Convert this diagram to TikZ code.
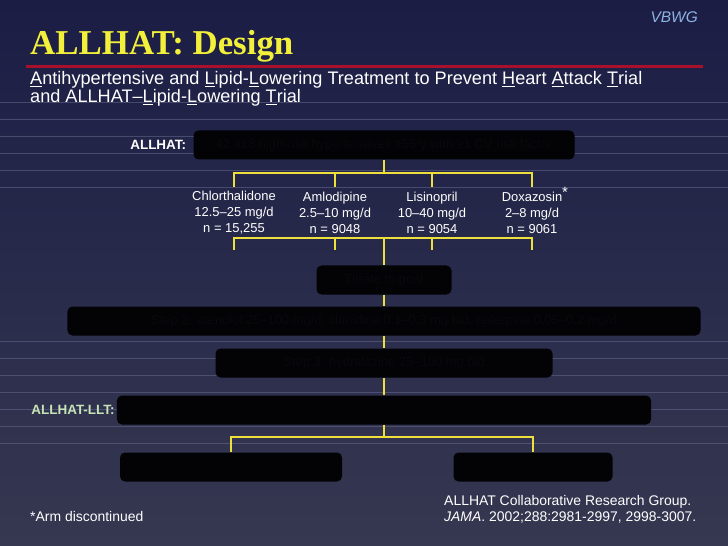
\documentclass[tikz,border=0pt]{standalone}
\usepackage{fontspec}
\setmainfont{Liberation Sans}
\newfontfamily\titlefont{Liberation Serif}
\usetikzlibrary{positioning}
\definecolor{slidetop}{HTML}{363851}
\definecolor{slidebot}{HTML}{1B1D45}
\definecolor{titleyellow}{HTML}{F2F03A}
\definecolor{rulered}{HTML}{A8102C}
\definecolor{linkyellow}{HTML}{EDE03C}
\definecolor{vbwgblue}{HTML}{8DB3E2}
\definecolor{lltgreen}{HTML}{C6E4B4}
\definecolor{scan}{HTML}{676A8C}
\definecolor{boxfill}{HTML}{030306}
\definecolor{boxtext}{HTML}{09090D}
\begin{document}
\begin{tikzpicture}[x=1bp,y=-1bp,
  box/.style={fill=boxfill, rounded corners=5bp, minimum height=29bp, inner sep=0pt,
    text=boxtext, font=\fontsize{13}{15}\selectfont},
  drug/.style={text=white, align=center, inner sep=0pt, font=\fontsize{13}{16}\selectfont},
  link/.style={draw=linkyellow, line width=2.6bp},
  scanline/.style={draw=scan, line width=0.7bp, opacity=0.55},
  tag/.style={font=\bfseries\fontsize{13.5}{15}\selectfont, inner sep=0pt},
  note/.style={text=white, inner sep=0pt, font=\fontsize{14}{16}\selectfont}]
\useasboundingbox (0,0) rectangle (728,546);
\shade[top color=slidebot, bottom color=slidetop] (0,0) rectangle (728,546);
\foreach \y in {102,119,...,187}
  \draw[scanline] (0,\y) -- (728,\y);
\foreach \y in {341,358,...,443}
  \draw[scanline] (0,\y) -- (728,\y);

\node[anchor=base east, text=vbwgblue, inner sep=0pt, font=\itshape\fontsize{15.5}{16}\selectfont] (vbwg) at (698,23) {VBWG};
\node[anchor=base west, text=titleyellow, inner sep=0pt, font=\titlefont\bfseries\fontsize{35}{35}\selectfont] (title) at (30,55) {ALLHAT: Design};
\draw[rulered, line width=3bp] (26,67) -- (703,67);
\node[anchor=base west, text=white, inner sep=0pt, font=\fontsize{18.2}{19}\selectfont] (sub1) at (30,85)
  {\underline{A}ntihypertensive and \underline{L}ipid-\underline{L}owering Treatment to Prevent \underline{H}eart \underline{A}ttack \underline{T}rial};
\node[anchor=base west, text=white, inner sep=0pt, font=\fontsize{18.2}{19}\selectfont] (sub2) at (30,103)
  {and ALLHAT--\underline{L}ipid-\underline{L}owering \underline{T}rial};

\node[box, minimum width=381bp] (pop) at (384,145) {42,418 high-risk hypertensives ≥55 y with ≥1 CV risk factor};
\node[tag, text=white, left=7bp of pop] (allhat) {ALLHAT:};

\node[drug] (chl) at (234,213) {Chlorthalidone\\12.5--25 mg/d\\n = 15,255};
\node[drug] (aml) at (335,213) {Amlodipine\\2.5--10 mg/d\\n = 9048};
\node[drug] (lis) at (432,213) {Lisinopril\\10--40 mg/d\\n = 9054};
\node[drug] (dox) at (532,213) {Doxazosin\rlap{\raisebox{4bp}[0pt][0pt]{\fontsize{15}{15}\selectfont *}}\\2--8 mg/d\\n = 9061};

\coordinate (barT) at (384,173);
\coordinate (barM) at (384,238);
\draw[link] (pop) -- (barT);
\draw[link] (chl |- barT) ++(0,14) -- ++(0,-14) -- (dox |- barT) -- ++(0,14);
\foreach \n in {aml,lis}
  \draw[link] (\n |- barT) -- ++(0,14);
\draw[link] (chl |- barM) ++(0,12) -- ++(0,-12) -- (dox |- barM) -- ++(0,12);
\foreach \n in {aml,lis}
  \draw[link] (\n |- barM) -- ++(0,12);

\node[box, minimum width=135bp] (titr) at (384,280) {Titrate to goal};
\node[box, minimum width=633bp] (step2) at (384,321) {Step 2: atenolol 25--100 mg/d, clonidine 0.1--0.3 mg bid, reserpine 0.05--0.2 mg/d};
\node[box, minimum width=337bp] (step3) at (384,363) {Step 3: hydralazine 25--100 mg bid};
\node[box, minimum width=534bp] (llt) at (384,410) {};
\node[tag, text=lltgreen, left=2bp of llt] (lltlabel) {ALLHAT-LLT:};
\node[box, minimum width=222bp] (prav) at (231,467) {};
\node[box, minimum width=159bp] (uc) at (533,467) {};

\draw[link] (barM) -- (titr);
\draw[link] (titr) -- (step2);
\draw[link] (step2) -- (step3);
\draw[link] (step3) -- (llt);
\coordinate (barL) at (384,437);
\draw[link] (llt) -- (barL);
\draw[link] (prav) |- (barL) -| (uc);

\node[note, anchor=base west] (arm) at (30,521) {*Arm discontinued};
\node[note, anchor=base west] (ref1) at (444,505) {ALLHAT Collaborative Research Group.};
\node[note, anchor=base west] (ref2) at (444,521) {\textit{JAMA}. 2002;288:2981-2997, 2998-3007.};
\end{tikzpicture}
\end{document}
